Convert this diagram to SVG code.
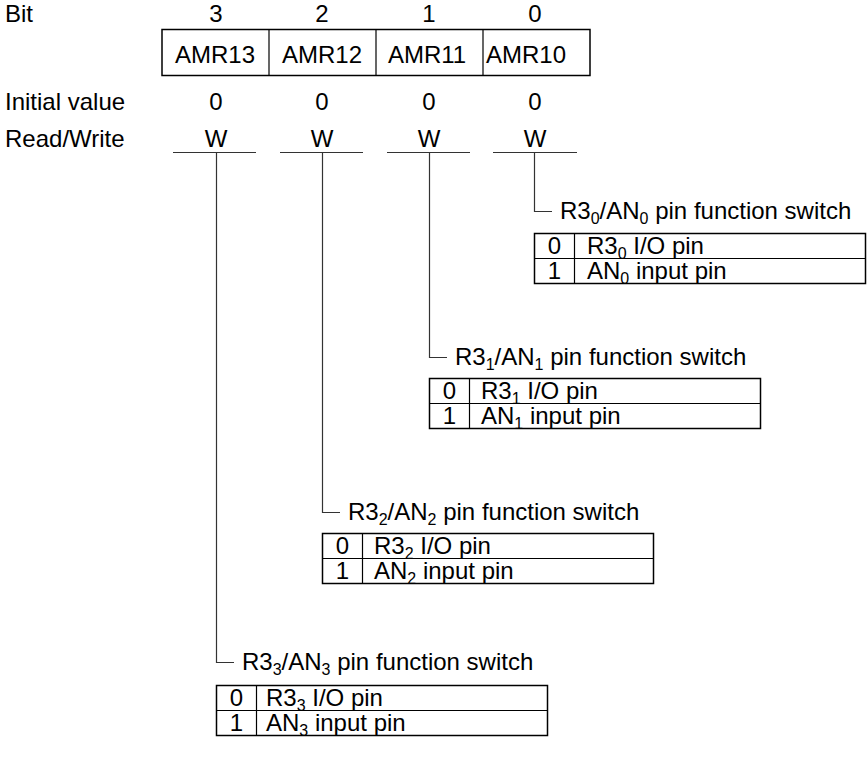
<svg xmlns="http://www.w3.org/2000/svg" width="867" height="763" viewBox="0 0 867 763">
<style>
text{font-family:"Liberation Sans",Arial,sans-serif;font-size:24px;fill:#000}
.m{text-anchor:middle}
.s{font-size:16px}
.box{fill:none;stroke:#000;stroke-width:1.5}
.div{stroke:#000;stroke-width:1.2}
.con{fill:none;stroke:#333;stroke-width:1.2}
</style>
<rect width="867" height="763" fill="#fff"/>
<g id="header">
<text x="5" y="22">Bit</text>
<text x="5" y="110">Initial value</text>
<text x="5" y="147">Read/Write</text>
<text class="m" x="216" y="22">3</text>
<text class="m" x="322" y="22">2</text>
<text class="m" x="429" y="22">1</text>
<text class="m" x="535" y="22">0</text>
<rect class="box" x="162" y="29.5" width="428" height="46"/>
<line class="div" x1="269" y1="29.5" x2="269" y2="75.5"/>
<line class="div" x1="376" y1="29.5" x2="376" y2="75.5"/>
<line class="div" x1="483" y1="29.5" x2="483" y2="75.5"/>
<text class="m" x="215" y="63">AMR13</text>
<text class="m" x="322" y="63">AMR12</text>
<text class="m" x="427" y="63">AMR11</text>
<text x="486" y="63">AMR10</text>
<text class="m" x="216" y="110">0</text>
<text class="m" x="322" y="110">0</text>
<text class="m" x="429" y="110">0</text>
<text class="m" x="535" y="110">0</text>
<text class="m" x="216" y="147">W</text>
<text class="m" x="322" y="147">W</text>
<text class="m" x="429" y="147">W</text>
<text class="m" x="535" y="147">W</text>
</g>
<g id="connectors">
<line class="con" x1="173" y1="152.5" x2="256" y2="152.5"/>
<line class="con" x1="280" y1="152.5" x2="363" y2="152.5"/>
<line class="con" x1="387" y1="152.5" x2="470" y2="152.5"/>
<line class="con" x1="493" y1="152.5" x2="577" y2="152.5"/>
<polyline class="con" points="534.5,152.5 534.5,211.5 552,211.5"/>
<polyline class="con" points="429.5,152.5 429.5,357.5 447,357.5"/>
<polyline class="con" points="322.5,152.5 322.5,512.5 340,512.5"/>
<polyline class="con" points="216.5,152.5 216.5,662.5 234,662.5"/>
</g>
<g id="switch0">
<text x="560" y="219">R3<tspan class="s" dy="5">0</tspan><tspan dy="-5">/AN</tspan><tspan class="s" dy="5">0</tspan><tspan dy="-5"> pin function switch</tspan></text>
<rect class="box" x="534.5" y="233.5" width="331" height="50"/>
<line class="div" x1="534.5" y1="258.5" x2="865.5" y2="258.5"/>
<line class="div" x1="574.5" y1="233.5" x2="574.5" y2="283.5"/>
<text class="m" x="554.5" y="254">0</text>
<text class="m" x="554.5" y="279">1</text>
<text x="587" y="254">R3<tspan class="s" dy="5">0</tspan><tspan dy="-5"> I/O pin</tspan></text>
<text x="587" y="279">AN<tspan class="s" dy="5">0</tspan><tspan dy="-5"> input pin</tspan></text>
</g>
<g id="switch1">
<text x="455" y="365">R3<tspan class="s" dy="5">1</tspan><tspan dy="-5">/AN</tspan><tspan class="s" dy="5">1</tspan><tspan dy="-5"> pin function switch</tspan></text>
<rect class="box" x="429.5" y="378.5" width="331" height="50"/>
<line class="div" x1="429.5" y1="403.5" x2="760.5" y2="403.5"/>
<line class="div" x1="469.5" y1="378.5" x2="469.5" y2="428.5"/>
<text class="m" x="449.5" y="399">0</text>
<text class="m" x="449.5" y="424">1</text>
<text x="481" y="399">R3<tspan class="s" dy="5">1</tspan><tspan dy="-5"> I/O pin</tspan></text>
<text x="481" y="424">AN<tspan class="s" dy="5">1</tspan><tspan dy="-5"> input pin</tspan></text>
</g>
<g id="switch2">
<text x="348" y="520">R3<tspan class="s" dy="5">2</tspan><tspan dy="-5">/AN</tspan><tspan class="s" dy="5">2</tspan><tspan dy="-5"> pin function switch</tspan></text>
<rect class="box" x="322.5" y="533.5" width="331" height="50"/>
<line class="div" x1="322.5" y1="558.5" x2="653.5" y2="558.5"/>
<line class="div" x1="362.5" y1="533.5" x2="362.5" y2="583.5"/>
<text class="m" x="342.5" y="554">0</text>
<text class="m" x="342.5" y="579">1</text>
<text x="374" y="554">R3<tspan class="s" dy="5">2</tspan><tspan dy="-5"> I/O pin</tspan></text>
<text x="374" y="579">AN<tspan class="s" dy="5">2</tspan><tspan dy="-5"> input pin</tspan></text>
</g>
<g id="switch3">
<text x="242" y="670">R3<tspan class="s" dy="5">3</tspan><tspan dy="-5">/AN</tspan><tspan class="s" dy="5">3</tspan><tspan dy="-5"> pin function switch</tspan></text>
<rect class="box" x="216.5" y="685.5" width="331" height="50"/>
<line class="div" x1="216.5" y1="710.5" x2="547.5" y2="710.5"/>
<line class="div" x1="256.5" y1="685.5" x2="256.5" y2="735.5"/>
<text class="m" x="236.5" y="706">0</text>
<text class="m" x="236.5" y="731">1</text>
<text x="266" y="706">R3<tspan class="s" dy="5">3</tspan><tspan dy="-5"> I/O pin</tspan></text>
<text x="266" y="731">AN<tspan class="s" dy="5">3</tspan><tspan dy="-5"> input pin</tspan></text>
</g>
</svg>
